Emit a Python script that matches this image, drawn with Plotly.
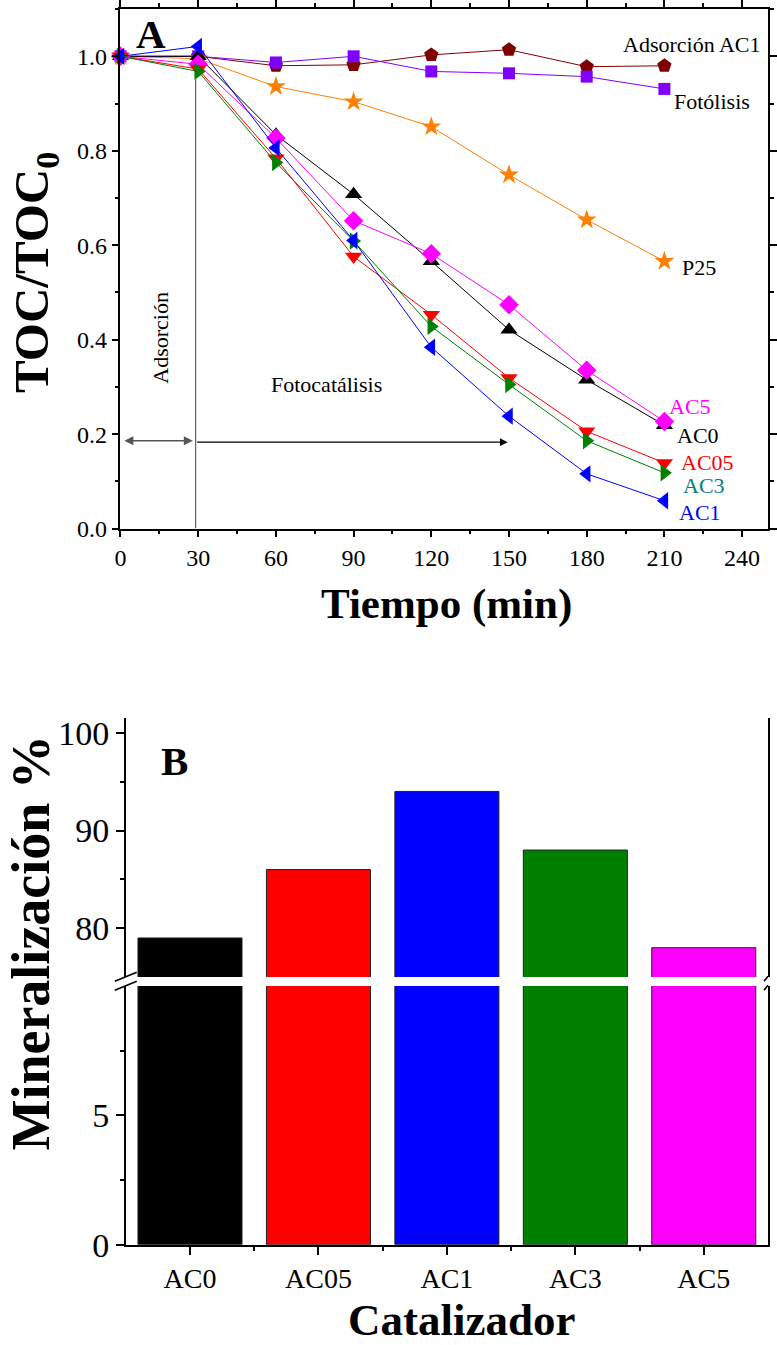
import plotly.graph_objects as go

# ---------------- data (panel A) ----------------
time_min = [0, 30, 60, 90, 120, 150, 180, 210]
ads_ac1 = [1.000, 1.000, 0.980, 0.982, 1.003, 1.014, 0.978, 0.980]
fotolisis = [1.000, 1.000, 0.987, 1.000, 0.968, 0.964, 0.957, 0.931]
p25 = [1.000, 0.995, 0.936, 0.904, 0.851, 0.749, 0.654, 0.566]
ac0 = [1.000, 1.000, 0.834, 0.708, 0.566, 0.421, 0.315, 0.219]
ac5 = [1.000, 0.983, 0.827, 0.652, 0.582, 0.474, 0.335, 0.227]
ac05 = [1.000, 0.973, 0.784, 0.576, 0.453, 0.319, 0.206, 0.139]
ac3 = [1.000, 0.968, 0.775, 0.609, 0.428, 0.305, 0.186, 0.118]
ac1 = [1.000, 1.021, 0.806, 0.610, 0.384, 0.238, 0.116, 0.059]

# ---------------- data (panel B) ----------------
catalysts = ["AC0", "AC05", "AC1", "AC3", "AC5"]
mineralization = [79, 86, 94, 88, 78]
bar_colors = ["#000000", "#FF0000", "#0000FF", "#008000", "#FF00FF"]

FONT = "Liberation Serif, Times New Roman, serif"
W, H = 777, 1345
SC = 0.985  # empirical compensation for the photographed page
OX, OY = 5.7, 1.6


def px(x):
    return min(max(((x - OX) / SC) / W, 0.0), 1.0)


def py(y):
    return min(max(1 - ((y - OY) / SC) / H, 0.0), 1.0)


def fs(s):
    return round(s / SC)


fig = go.Figure()

series = [
    (ads_ac1, "#800000", "pentagon", 15),
    (fotolisis, "#8000FF", "square", 12),
    (p25, "#FF8000", "star", 15),
    (ac0, "#000000", "triangle-up", 15),
    (ac5, "#FF00FF", "diamond", 15),
    (ac05, "#FF0000", "triangle-down", 15),
    (ac3, "#008000", "triangle-right", 15),
    (ac1, "#0000FF", "triangle-left", 15),
]
for vals, col, sym, size in series:
    fig.add_trace(go.Scatter(
        x=time_min, y=vals, mode="lines+markers", xaxis="x", yaxis="y",
        line=dict(color=col, width=1),
        marker=dict(symbol=sym, size=size, color=col, line=dict(width=0)),
        showlegend=False, cliponaxis=False,
    ))

idx = list(range(len(catalysts)))
for yax in ["y2", "y3"]:
    fig.add_trace(go.Bar(
        x=idx, y=mineralization, xaxis="x2", yaxis=yax, width=0.81,
        marker=dict(color=bar_colors, line=dict(color="#222222", width=1)),
        showlegend=False,
    ))

tickfont_a = dict(family=FONT, size=fs(24), color="black")
tickfont_b = dict(family=FONT, size=fs(33), color="black")
tickfont_bx = dict(family=FONT, size=fs(28), color="black")

axis_common = dict(showline=True, linecolor="black", linewidth=1.6,
                   ticks="outside", tickcolor="black", tickwidth=1.6,
                   showgrid=False, zeroline=False)

fig.update_layout(
    width=W, height=H, margin=dict(l=0, r=0, t=0, b=0),
    paper_bgcolor="white", plot_bgcolor="white",
    font=dict(family=FONT, color="black"),
    xaxis=dict(domain=[px(120.7), px(773)], range=[0, 250], anchor="y",
               tick0=0, dtick=30, ticklen=7, mirror="ticks",
               minor=dict(dtick=15, ticklen=4, ticks="outside", tickcolor="black"),
               tickfont=tickfont_a, **axis_common),
    yaxis=dict(domain=[py(527.3), py(6.7)], range=[0, 1.1], anchor="x",
               tick0=0, dtick=0.2, tickformat=".1f", ticklen=7, mirror="ticks",
               minor=dict(dtick=0.1, ticklen=4, ticks="outside", tickcolor="black"),
               tickfont=tickfont_a, **axis_common),
    xaxis2=dict(domain=[px(126), 1.0], range=[-0.5, 4.5], anchor="y3",
                tickmode="array", tickvals=idx, ticktext=catalysts, ticklen=8,
                minor=dict(tickmode="array", tickvals=[0.5, 1.5, 2.5, 3.5],
                           ticklen=4, ticks="outside", tickcolor="black"),
                tickfont=tickfont_bx, **axis_common),
    xaxis3=dict(domain=[px(126), 1.0], range=[-0.5, 4.5], anchor="y2",
                overlaying="x2", side="top", showticklabels=False,
                showline=True, linecolor="black", linewidth=1.6,
                ticks="inside", ticklen=3, tickcolor="black",
                tickmode="array", tickvals=[0, 0.5, 1, 1.5, 2, 2.5, 3, 3.5, 4],
                showgrid=False, zeroline=False),
    yaxis2=dict(domain=[py(976.7), py(717.3)], range=[75, 101.5], anchor="x2",
                tickmode="array", tickvals=[80, 90, 100], ticklen=8, mirror=True,
                minor=dict(tickmode="array", tickvals=[85, 95], ticklen=4,
                           ticks="outside", tickcolor="black"),
                tickfont=tickfont_b, **axis_common),
    yaxis3=dict(domain=[py(1245), py(985.7)], range=[0, 10], anchor="x2",
                tickmode="array", tickvals=[0, 5], ticklen=8, mirror=True,
                minor=dict(tickmode="array", tickvals=[2.5, 7.5], ticklen=4,
                           ticks="outside", tickcolor="black"),
                tickfont=tickfont_b, **axis_common),
    bargap=0.19,
)

ann = []


def label(x, y, text, color="black", size=22, xref="x", yref="y", bold=False, angle=0):
    t = f"<b>{text}</b>" if bold else text
    ann.append(dict(x=x, y=y, xref=xref, yref=yref, text=t, showarrow=False,
                    textangle=angle, xanchor="center", yanchor="middle",
                    font=dict(family=FONT, size=fs(size), color=color)))


# series labels panel A
label(220.7, 1.025, "Adsorción AC1")
label(228.2, 0.904, "Fotólisis")
label(223.2, 0.552, "P25")
label(219.9, 0.259, "AC5", color="#FF00FF")
label(222.8, 0.197, "AC0")
label(226.6, 0.139, "AC05", color="#FF0000")
label(225.3, 0.091, "AC3", color="#008080")
label(223.8, 0.033, "AC1", color="#0000FF")
label(15.4, 0.405, "Adsorción", angle=-90)
label(79.5, 0.305, "Fotocatálisis")

# panel letters
label(px(151), py(32), "A", size=40, xref="paper", yref="paper", bold=True)
label(px(175), py(760), "B", size=40, xref="paper", yref="paper", bold=True)

# axis titles
label(px(35), py(271), "TOC/TOC<sub>0</sub>", size=48, xref="paper", yref="paper", bold=True, angle=-90)
label(px(448), py(603), "Tiempo (min)", size=42, xref="paper", yref="paper", bold=True)
label(px(31), py(943), "Mineralización %", size=53, xref="paper", yref="paper", bold=True, angle=-90)
label(px(463), py(1320), "Catalizador", size=44, xref="paper", yref="paper", bold=True)

# arrows panel A
ann.append(dict(x=1.5, y=0.186, ax=28.5, ay=0.186, xref="x", yref="y", axref="x", ayref="y",
                text="", showarrow=True, arrowhead=2, arrowside="end+start",
                arrowsize=1.2, arrowwidth=1.5, arrowcolor="#555555"))
ann.append(dict(x=149.5, y=0.183, ax=29, ay=0.183, xref="x", yref="y", axref="x", ayref="y",
                text="", showarrow=True, arrowhead=2, arrowsize=1.2, arrowwidth=1.3,
                arrowcolor="black"))

fig.update_layout(annotations=ann)

shapes = [
    dict(type="line", xref="x", yref="y", x0=29, x1=29, y0=0, y1=0.955,
         line=dict(color="#666666", width=1.3)),
    # axis break marks (bottom panel)
    dict(type="line", xref="paper", yref="paper", x0=px(115), y0=py(981), x1=px(137), y1=py(972),
         line=dict(color="black", width=1.6)),
    dict(type="line", xref="paper", yref="paper", x0=px(115), y0=py(990), x1=px(137), y1=py(981),
         line=dict(color="black", width=1.6)),
    dict(type="line", xref="paper", yref="paper", x0=px(767), y0=py(981), x1=1.0, y1=py(976),
         line=dict(color="black", width=1.6)),
    dict(type="line", xref="paper", yref="paper", x0=px(767), y0=py(990), x1=1.0, y1=py(985),
         line=dict(color="black", width=1.6)),
]
fig.update_layout(shapes=shapes)

fig.write_html("out.html")
